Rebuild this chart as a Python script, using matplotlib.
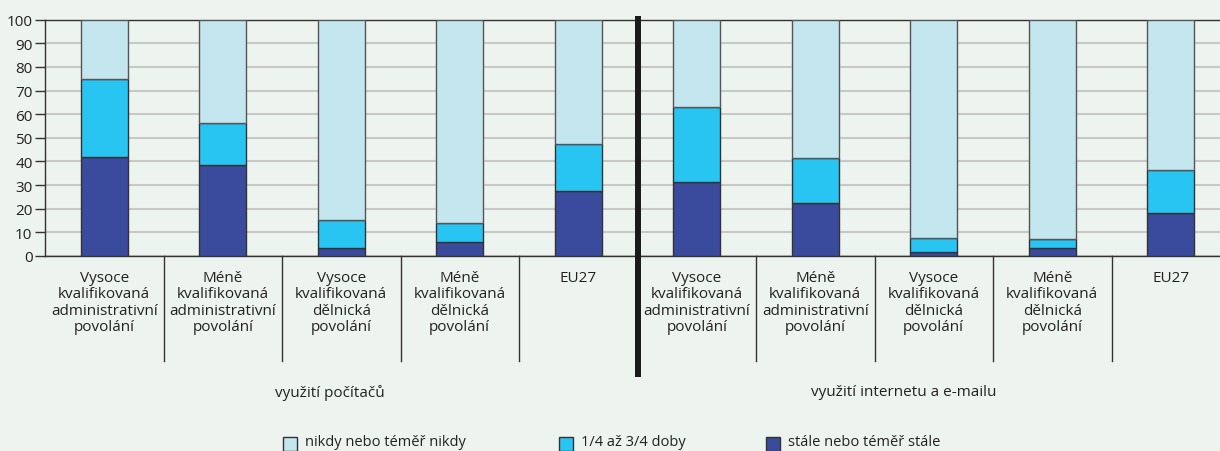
import numpy as np
import matplotlib.pyplot as plt
from matplotlib import transforms

plt.rcParams['font.family'] = ['Open Sans', 'DejaVu Sans']

# data (percent of workers)
categories = ['Vysoce\nkvalifikovaná\nadministrativní\npovolání',
              'Méně\nkvalifikovaná\nadministrativní\npovolání',
              'Vysoce\nkvalifikovaná\ndělnická\npovolání',
              'Méně\nkvalifikovaná\ndělnická\npovolání',
              'EU27']
groups = ['využití počítačů', 'využití internetu a e-mailu']
series = ['nikdy nebo téměř nikdy', '1/4 až 3/4 doby', 'stále nebo téměř stále']

computer_always = [42.1, 38.5, 3.5, 5.9, 27.4]
computer_part = [32.7, 17.9, 11.7, 8.1, 19.9]
internet_always = [31.4, 22.6, 1.7, 3.5, 18.1]
internet_part = [31.6, 18.9, 5.9, 3.8, 18.3]

yticks = list(range(0, 101, 10))

c_never = '#c4e7ef'
c_part = '#29c5f2'
c_always = '#3a4a9c'
bg = '#edf3ee'
edge = '#333333'

always = np.array(computer_always + internet_always)
part = np.array(computer_part + internet_part)
never = 100 - always - part
x = np.arange(len(always))

W, H = 1220, 452
fig = plt.figure(figsize=(W / 100, H / 100), dpi=100, facecolor=bg)
ax = fig.add_axes([45 / W, (H - 257) / H, 1175 / W, 236.3 / H])
ax.set_facecolor(bg)

bw = 0.4
ax.bar(x, always, bw, color=c_always, edgecolor=edge, linewidth=1, zorder=3)
ax.bar(x, part, bw, bottom=always, color=c_part, edgecolor=edge, linewidth=1, zorder=3)
ax.bar(x, never, bw, bottom=always + part, color=c_never, edgecolor='#555555',
       linewidth=1, zorder=3)

ax.set_xlim(-0.5, -0.5 + 1175 / 118.5)
ax.set_ylim(0, 100)
ax.set_yticks(yticks)
ax.tick_params(axis='y', length=7, width=1, color=edge, labelsize=11,
               labelcolor='#222222', pad=2)
ax.set_xticks([])
ax.yaxis.grid(True, color='#c8c8c8', linewidth=1.5, zorder=0)
for s in ['left', 'bottom', 'top']:
    ax.spines[s].set_color(edge)
    ax.spines[s].set_linewidth(1)
ax.spines['right'].set_visible(False)

# label table under the axis
tr = transforms.blended_transform_factory(ax.transData, fig.transFigure)
def fy(px):
    return 1 - px / H

for i in range(len(x)):
    ax.text(x[i], fy(271), categories[i % 5], transform=tr, ha='center', va='top',
            fontsize=11, color='#222222', linespacing=1.13)
for d in [0.5, 1.5, 2.5, 3.5, 5.5, 6.5, 7.5, 8.5]:
    ax.plot([d, d], [fy(257), fy(362)], transform=tr, color=edge, lw=1, clip_on=False)

# thick separator between the two groups
ax.plot([4.5, 4.5], [fy(17), fy(378)], transform=tr, color='#1a1a1a', lw=4.3,
        clip_on=False, zorder=5, solid_capstyle='butt')

ax.text(1.9, fy(393), groups[0], transform=tr, ha='center', va='center',
        fontsize=11, color='#222222')
ax.text(6.75, fy(393), groups[1], transform=tr, ha='center', va='center',
        fontsize=11, color='#222222')

# legend along the bottom edge
leg_x = [283, 559, 766]
leg_c = [c_never, c_part, c_always]
for lx, lc, name in zip(leg_x, leg_c, series):
    fig.patches.append(plt.Rectangle((lx / W, fy(452)), 14 / W, 14 / H,
                                     transform=fig.transFigure, facecolor=lc,
                                     edgecolor=edge, linewidth=1))
    fig.text((lx + 22) / W, fy(443), name, ha='left', va='center',
             fontsize=10.5, color='#222222')

fig.savefig('out.png', dpi=100, facecolor=bg)
